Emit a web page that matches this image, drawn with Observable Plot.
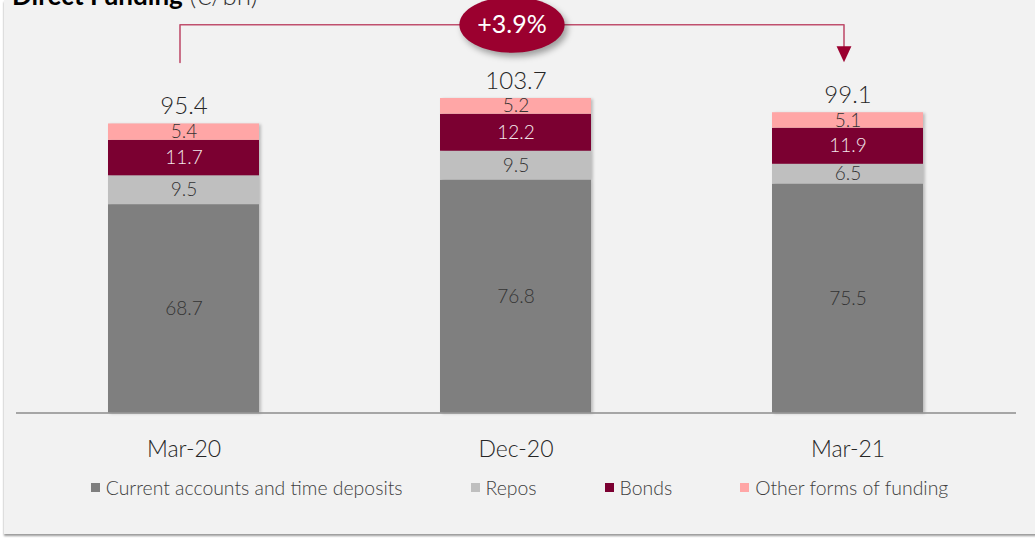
<!DOCTYPE html>
<html>
<head>
<meta charset="utf-8">
<script src="https://cdn.jsdelivr.net/npm/d3@7"></script>
<script src="https://cdn.jsdelivr.net/npm/@observablehq/plot@0.6"></script>
<style>
  html, body { margin: 0; padding: 0; background: #ffffff; width: 1035px; height: 538px; overflow: hidden; }
  #panel { position: absolute; left: 4px; top: 0; width: 1040px; height: 534px; background: #f2f2f2; box-shadow: 0 2px 2px #9a9a9a; }
  #title { position: absolute; left: 12px; top: -18px; font-family: Lato, sans-serif; font-size: 26px; line-height: 26px; color: #000; white-space: nowrap; }
  #title b { font-weight: 700; }
  #title span { font-weight: 300; color: #333; }
  #chart { position: absolute; left: 0; top: 0; }
  #legend { position: absolute; left: 4px; width: 1031px; top: 476px; display: flex; justify-content: center; gap: 68px; font-family: Lato, sans-serif; font-weight: 300; font-size: 19.4px; color: #404040; }
  #legend .item { display: flex; align-items: center; gap: 6px; }
  #legend .sw { width: 9px; height: 9px; display: inline-block; }
</style>
</head>
<body>
<div id="panel"></div>
<div id="title"><b>Direct Funding</b> <span>(€/bn)</span></div>
<div id="chart"></div>
<div id="legend"></div>
<script>
const categories = ["Mar-20", "Dec-20", "Mar-21"];
const seriesNames = ["Current accounts and time deposits", "Repos", "Bonds", "Other forms of funding"];
const currentAccounts = [68.7, 76.8, 75.5];
const repos = [9.5, 9.5, 6.5];
const bonds = [11.7, 12.2, 11.9];
const otherFunding = [5.4, 5.2, 5.1];
const totals = [95.4, 103.7, 99.1];
const growthLabel = "+3.9%";
const seriesColors = ["#7f7f7f", "#bfbfbf", "#7b0031", "#ffa6a6"];

const seriesValues = [currentAccounts, repos, bonds, otherFunding];
const table = [];
seriesNames.forEach((s, si) => categories.forEach((c, ci) => table.push({category: c, series: s, value: seriesValues[si][ci]})));
const totalRows = categories.map((c, i) => ({category: c, total: totals[i]}));

// annotation bracket (Mar-20 -> Mar-21)
const bracketTop = 128;
const bracket = [
  {category: categories[0], v: 115.6},
  {category: categories[0], v: bracketTop},
  {category: categories[2], v: bracketTop},
  {category: categories[2], v: 120.6}
];

const ellipseSymbol = {
  draw(ctx, size) {
    const r = Math.sqrt(size / Math.PI), rx = r * 1.88, ry = r, k = 0.5523;
    ctx.moveTo(rx, 0);
    ctx.bezierCurveTo(rx, ry * k, rx * k, ry, 0, ry);
    ctx.bezierCurveTo(-rx * k, ry, -rx, ry * k, -rx, 0);
    ctx.bezierCurveTo(-rx, -ry * k, -rx * k, -ry, 0, -ry);
    ctx.bezierCurveTo(rx * k, -ry, rx, -ry * k, rx, 0);
    ctx.closePath();
  }
};
const downTriangle = {
  draw(ctx, size) {
    const r = Math.sqrt(size / Math.PI), w = 2.7 * r, h = 2.9 * r;
    ctx.moveTo(-w / 2, -h / 2);
    ctx.lineTo(w / 2, -h / 2);
    ctx.lineTo(0, h / 2);
    ctx.closePath();
  }
};

const font = "Lato, sans-serif";
const fmt = d3.format(".1f");

const chart = Plot.plot({
  width: 1035,
  height: 470,
  marginLeft: 16,
  marginRight: 19,
  marginTop: 0,
  marginBottom: 57.5,
  style: {background: "none", overflow: "visible", fontFamily: font},
  x: {domain: categories, range: [107, 924], paddingInner: 0.5465, paddingOuter: 0, axis: null},
  y: {domain: [0, 130], range: [412.5, 412.5 - 130 * 3.033], axis: null},
  color: {domain: seriesNames, range: seriesColors},
  marks: [
    Plot.barY(table, Plot.stackY({x: "category", y: "value", fill: "series", order: null})),
    Plot.text(table, Plot.stackY({x: "category", y: "value", z: "series", order: null,
      text: d => d.series === "Bonds" ? "" : fmt(d.value), fill: "#333333", fontSize: 19, fontWeight: 300, fontFamily: font, lineAnchor: "middle"})),
    Plot.text(table, Plot.stackY({x: "category", y: "value", z: "series", order: null,
      text: d => d.series === "Bonds" ? fmt(d.value) : "", fill: "#f3e8eb", fontSize: 19, fontWeight: 300, fontFamily: font, lineAnchor: "middle"})),
    Plot.text(totalRows, {x: "category", y: "total", text: d => fmt(d.total), dy: -17, fill: "#262626", fontSize: 24, fontWeight: 300, fontFamily: font, lineAnchor: "middle"}),
    Plot.ruleY([0], {stroke: "#8c8c8c", strokeWidth: 1.5}),
    Plot.text(categories, {x: d => d, y: 0, text: d => d, dy: 37, fill: "#262626", fontSize: 23, fontWeight: 300, fontFamily: font, lineAnchor: "middle"}),
    Plot.line(bracket, {x: "category", y: "v", dx: -4, stroke: "#c0506e", strokeWidth: 1.6, curve: "linear"}),
    Plot.dot([categories[2]], {x: d => d, y: 118.3, dx: -4, r: 5.5, symbol: downTriangle, fill: "#9b002f", stroke: "none"}),
    Plot.dot([categories[1]], {x: d => d, y: bracketTop, dx: -4, r: 28, symbol: ellipseSymbol, fill: "#9b002f", stroke: "none"}),
    Plot.text([growthLabel], {x: () => categories[1], y: bracketTop, dx: -4, text: d => d, fill: "#ffffff", fontSize: 25, fontWeight: 400, fontFamily: font, lineAnchor: "middle"})
  ]
});
document.getElementById("chart").appendChild(chart);

// soft shadows like the original
const svg = d3.select(chart);
svg.selectAll('g[aria-label="bar"]').style("filter", "drop-shadow(2px 1px 1.5px rgba(0,0,0,0.22))");
svg.selectAll('g[aria-label="dot"]').filter((d, i, n) => i === 1).style("filter", "drop-shadow(3px 4px 3px rgba(0,0,0,0.35))");

const legend = document.getElementById("legend");
seriesNames.forEach((s, i) => {
  const item = document.createElement("div");
  item.className = "item";
  const sw = document.createElement("span");
  sw.className = "sw";
  sw.style.background = seriesColors[i];
  const t = document.createElement("span");
  t.textContent = s;
  item.appendChild(sw);
  item.appendChild(t);
  legend.appendChild(item);
});
</script>
</body>
</html>
